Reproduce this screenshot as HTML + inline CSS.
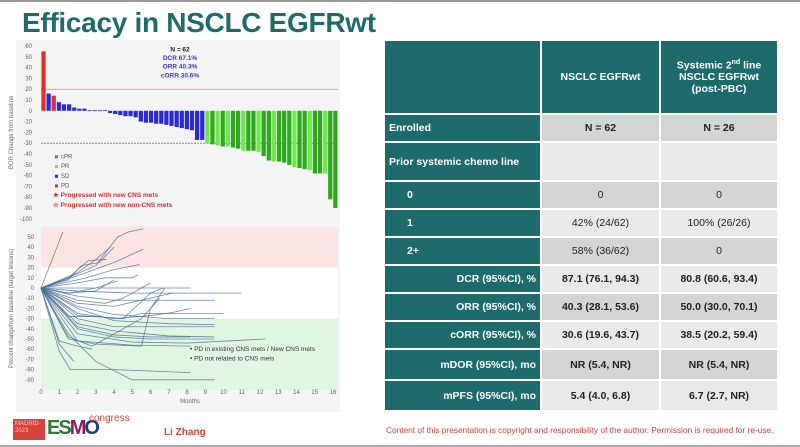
<!DOCTYPE html>
<html><head><meta charset="utf-8"><style>
body{margin:0;width:800px;height:447px;overflow:hidden;background:#fff;font-family:"Liberation Sans",sans-serif;position:relative}
.abs{position:absolute}
#title{left:22px;top:7px;font-size:28px;font-weight:bold;color:#1f6b6b;letter-spacing:-0.3px}
table{position:absolute;left:383px;top:39px;border-collapse:separate;border-spacing:2px 2px;font-size:10.5px;color:#222}
td{padding:0 4px;text-align:center}
td.h{background:#1e6b6b;color:#fff;font-weight:bold}
td.l{background:#1e6b6b;color:#fff;font-weight:bold;text-align:left}
td.r{background:#1e6b6b;color:#fff;font-weight:bold;text-align:right}
td.g1{background:#d2d4d6}td.g2{background:#e8e9ea}
.b{font-weight:bold}
</style></head><body>
<div class="abs" style="left:0;top:0;width:800px;height:2px;background:#999"></div>
<div id="title" class="abs">Efficacy in NSCLC EGFRwt</div>

<svg class="abs" style="left:0;top:38px" width="380" height="190" id="wf"></svg>
<svg class="abs" style="left:0;top:222px" width="380" height="190" id="sp"></svg>

<table>
<tr style="height:72px"><td class="h" style="width:147px"></td><td class="h" style="width:109px">NSCLC EGFRwt</td><td class="h" style="width:108px">Systemic 2<sup style="font-size:7px">nd</sup> line<br>NSCLC EGFRwt<br>(post-PBC)</td></tr>
<tr style="height:26px"><td class="l">Enrolled</td><td class="g1 b">N = 62</td><td class="g1 b">N = 26</td></tr>
<tr style="height:37px"><td class="l">Prior systemic chemo line</td><td class="g2"></td><td class="g2"></td></tr>
<tr style="height:26px"><td class="l" style="padding-left:22px">0</td><td class="g1">0</td><td class="g1">0</td></tr>
<tr style="height:26px"><td class="l" style="padding-left:22px">1</td><td class="g2">42% (24/62)</td><td class="g2">100% (26/26)</td></tr>
<tr style="height:26px"><td class="l" style="padding-left:22px">2+</td><td class="g1">58% (36/62)</td><td class="g1">0</td></tr>
<tr style="height:26px"><td class="r">DCR (95%CI), %</td><td class="g2 b">87.1 (76.1, 94.3)</td><td class="g2 b">80.8 (60.6, 93.4)</td></tr>
<tr style="height:26px"><td class="r">ORR (95%CI), %</td><td class="g1 b">40.3 (28.1, 53.6)</td><td class="g1 b">50.0 (30.0, 70.1)</td></tr>
<tr style="height:26px"><td class="r">cORR (95%CI), %</td><td class="g2 b">30.6 (19.6, 43.7)</td><td class="g2 b">38.5 (20.2, 59.4)</td></tr>
<tr style="height:29px"><td class="r">mDOR (95%CI), mo</td><td class="g1 b">NR (5.4, NR)</td><td class="g1 b">NR (5.4, NR)</td></tr>
<tr style="height:29px"><td class="r">mPFS (95%CI), mo</td><td class="g2 b">5.4 (4.0, 6.8)</td><td class="g2 b">6.7 (2.7, NR)</td></tr>
</table>
<div class="abs" style="left:386px;top:425px;font-size:8.3px;color:#d04040;white-space:nowrap">Content of this presentation is copyright and responsibility of the author. Permission is required for re-use.</div>

<div class="abs" style="left:13px;top:419px;width:28px;height:17px;background:#d9443a;color:#fbd;font-size:6px;line-height:7px;padding:2px">MADRID<br>2023</div>
<div class="abs" style="left:47px;top:417px;font-size:20px;font-weight:bold;color:#2a7a3a;letter-spacing:-2px">ES<span style="color:#8b1e5a">M</span><span style="color:#1e3c8a">O</span></div>
<div class="abs" style="left:89px;top:413px;font-size:10px;color:#d9443a">congress</div>
<div class="abs" style="left:164px;top:427px;font-size:10px;font-weight:bold;color:#d9443a">Li Zhang</div>
<div class="abs" style="left:0;top:445px;width:800px;height:2px;background:#aaa"></div>

<script>
const NS="http://www.w3.org/2000/svg";
function mk(p,t,a){const e=document.createElementNS(NS,t);for(const k in a)e.setAttribute(k,a[k]);p.appendChild(e);return e;}
// ---- Waterfall data ----
const wfValues=[55,16,14,8,6,6,3,2,2,0.5,0.5,0.5,0.5,-2,-3,-4,-5,-5,-6,-10,-11,-11,-12,-12,-13,-14,-15,-16,-17,-18,-27,-27,-30,-31,-32,-33,-33,-34,-35,-37,-37,-37,-38,-42,-46,-47,-47,-48,-50,-52,-53,-54,-55,-58,-58,-58,-82,-90];
const wfTypes=["PD","SD","PD","SD","SD","SD","SD","SD","SD","SD","SD","SD","SD","SD","SD","SD","SD","SD","SD","SD","SD","SD","SD","SD","SD","SD","SD","SD","SD","SD","SD","SD","PR","cPR","PR","cPR","PR","cPR","cPR","PR","cPR","cPR","PR","cPR","cPR","PR","cPR","cPR","cPR","PR","cPR","cPR","PR","cPR","cPR","PR","cPR","cPR"];
const wfTicks=[60,50,40,30,20,10,0,-10,-20,-30,-40,-50,-60,-70,-80,-90,-100];
const wfColors={PD:"#e0302a",SD:"#2a2ad8",PR:"#6fe84a",cPR:"#2ea81e"};
const wf=document.getElementById('wf');
const wy=v=>8+(60-v)*1.08, x0=41,x1=338, bw=(x1-x0)/wfValues.length;
mk(wf,'rect',{x:16,y:2,width:324,height:185,fill:'#f4f4f4'});
wfTicks.forEach(t=>{const e=mk(wf,'text',{x:32,y:wy(t)+2,'font-size':6,fill:'#666','text-anchor':'end'});e.textContent=t;});
mk(wf,'line',{x1:x0,x2:x1,y1:wy(20),y2:wy(20),stroke:'#e06060','stroke-width':0.7});
mk(wf,'line',{x1:x0,x2:x1,y1:wy(-30),y2:wy(-30),stroke:'#555','stroke-width':0.7,'stroke-dasharray':'2,1'});
wfValues.forEach((v,i)=>{const r=mk(wf,'rect',{x:x0+i*bw+0.4,y:Math.min(wy(v),wy(0)),width:bw-0.9,height:Math.max(0.8,Math.abs(wy(v)-wy(0))),fill:wfColors[wfTypes[i]]});

});
const yl=mk(wf,'text',{x:0,y:0,'font-size':6,fill:'#666','text-anchor':'middle',transform:`translate(13,${wy(-20)}) rotate(-90)`});yl.textContent='BOR Change from baseline';
[['N = 62','#222',wy(55)],['DCR 67.1%','#3a3ad0',wy(47)],['ORR 40.3%','#3a3ad0',wy(39)],['cORR 30.6%','#3a3ad0',wy(31)]].forEach(a=>{const e=mk(wf,'text',{x:180,y:a[2],'font-size':6.5,'font-weight':'bold',fill:a[1],'text-anchor':'middle'});e.textContent=a[0];});
[['cPR','#2ea81e'],['PR','#6fe84a'],['SD','#2a2ad8'],['PD','#e0302a']].forEach((a,i)=>{const y=wy(-44-i*9);mk(wf,'rect',{x:55,y:y-3,width:3,height:3,fill:a[1]});const e=mk(wf,'text',{x:61,y:y,'font-size':6,fill:'#555'});e.textContent=a[0];});
[['★ Progressed with new CNS mets',wy(-80)],['☆ Progressed with new non-CNS mets',wy(-89)]].forEach(a=>{const e=mk(wf,'text',{x:53,y:a[1],'font-size':6.5,'font-weight':'bold',fill:'#d03030'});e.textContent=a[0];});

// ---- Spider plot data: each series is [month, % change] pairs ----
const spSeries=[
[[0,0],[1.2,55]],
[[0,0],[1.5,10],[2.6,27],[3.6,28]],
[[0,0],[1.5,8],[2.2,22],[3.2,25],[4,40]],
[[0,0],[2,15],[3,28],[3.8,40]],
[[0,0],[1.5,10],[3,22],[4.2,50],[4.8,55],[5.6,58]],
[[0,0],[2,12],[4,25],[5.6,38]],
[[0,0],[2.5,10],[4,18],[5.4,23]],
[[0,0],[2,5],[3.5,10],[5,10],[5.3,13]],
[[0,0],[1.5,-5],[3,0],[4.2,7]],
[[0,0],[3,0],[8.2,0]],
[[0,0],[2,-3],[5,-5],[11,-5]],
[[0,0],[2,-12],[3.5,-15],[4.5,-10],[6,5]],
[[0,0],[2,-15],[4,-18],[7.2,-5]],
[[0,0],[2,-25],[4,-30],[6,-27],[7.2,-24],[8.2,-20]],
[[0,0],[2,-27],[4.5,-30],[5.5,-25],[10,-25]],
[[0,0],[1.5,-28],[3,-28],[4.5,-30],[6,-5],[6.7,0]],
[[0,0],[2,-30],[4,-38],[6,-38],[9.5,-38]],
[[0,0],[2,-38],[4,-46],[6,-48],[8.2,-48]],
[[0,0],[2,-40],[4,-48],[6,-50],[9.5,-50]],
[[0,0],[2,-45],[5,-53],[8,-54],[12.3,-50]],
[[0,0],[1.5,-50],[3,-55],[5.5,-57],[6,-20],[6.8,0]],
[[0,0],[1.5,-48],[2.8,-57],[4,-45],[5.5,-30],[6.5,-10]],
[[0,0],[2,-52],[5,-56],[8.2,-57]],
[[0,0],[1,-52],[2,-57],[2.8,-60]],
[[0,0],[1,-55],[1.8,-72]],
[[0,0],[1,-62],[1.6,-80],[4,-80],[8.2,-83]],
[[0,0],[1.5,-45],[3,-72],[5,-90],[9.5,-90]],
[[0,0],[2,-35],[4,-42],[7,-47],[9.5,-48]],
[[0,0],[2,-18],[4,-26],[7,-30],[9.5,-30]],
[[0,0],[2,-8],[4,-12],[9.5,-12]],
[[0,0],[2,-20],[4,-32],[7,-35],[9.5,-36]],
[[0,0],[1.5,-5],[3,-3],[4,8]]];
const spTicksY=[50,40,30,20,10,0,-10,-20,-30,-40,-50,-60,-70,-80,-90];
const spTicksX=[0,1,2,3,4,5,6,7,8,9,10,11,12,13,14,15,16];
const sp=document.getElementById('sp');
const sx=m=>41+m*18.25, sy=v=>66-v*1.02;
mk(sp,'rect',{x:16,y:0,width:324,height:190,fill:'#f4f4f4'});
mk(sp,'rect',{x:41,y:sy(60),width:297,height:sy(20)-sy(60),fill:'#fbe4e2'});
mk(sp,'rect',{x:41,y:sy(20),width:297,height:sy(-30)-sy(20),fill:'#ffffff'});
mk(sp,'rect',{x:41,y:sy(-30),width:297,height:sy(-100)-sy(-30),fill:'#e2f5e2'});
spTicksY.forEach(t=>{const e=mk(sp,'text',{x:34,y:sy(t)+2,'font-size':6,fill:'#666','text-anchor':'end'});e.textContent=t;});
spTicksX.forEach(m=>{const e=mk(sp,'text',{x:sx(m),y:172,'font-size':6,fill:'#666','text-anchor':'middle'});e.textContent=m;});
const xl=mk(sp,'text',{x:190,y:181,'font-size':6,fill:'#666','text-anchor':'middle'});xl.textContent='Months';
const yl2=mk(sp,'text',{x:0,y:0,'font-size':6,fill:'#666','text-anchor':'middle',transform:`translate(13,${sy(-20)}) rotate(-90)`});yl2.textContent='Percent changefrom baseline (target lesions)';
spSeries.forEach(s=>{
const pl=mk(sp,'polyline',{points:s.map(p=>sx(p[0])+','+sy(p[1])).join(' '),fill:'none',stroke:'#4a6e96','stroke-width':0.8,opacity:0.8});

});
[['• PD in existing CNS mets / New CNS mets',sy(-62)],['• PD not related to CNS mets',sy(-71)]].forEach(a=>{const e=mk(sp,'text',{x:190,y:a[1],'font-size':6.5,fill:'#333'});e.textContent=a[0];});
</script>
</body></html>
